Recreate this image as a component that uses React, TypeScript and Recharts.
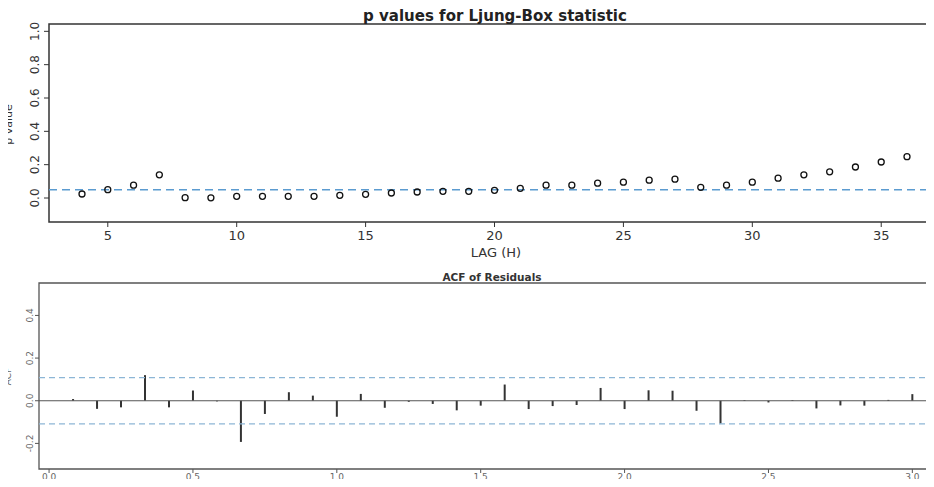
import { ScatterChart, Scatter, ComposedChart, Bar, XAxis, YAxis, ReferenceLine, ReferenceArea } from "recharts";

const lagH = [4, 5, 6, 7, 8, 9, 10, 11, 12, 13, 14, 15, 16, 17, 18, 19, 20, 21, 22, 23, 24, 25, 26, 27, 28, 29, 30, 31, 32, 33, 34, 35, 36];
const pValues = [
  0.024, 0.05, 0.077, 0.139, 0.002, 0.001, 0.01, 0.01, 0.01, 0.01, 0.016, 0.022, 0.03, 0.036, 0.04, 0.04, 0.046,
  0.058, 0.077, 0.077, 0.089, 0.095, 0.107, 0.113, 0.064, 0.077, 0.095, 0.119, 0.139, 0.157, 0.186, 0.216, 0.248,
];
const pTicksX = [5, 10, 15, 20, 25, 30, 35];
const pTicksY = [0, 0.2, 0.4, 0.6, 0.8, 1.0];

const acfLagMonths = [1, 2, 3, 4, 5, 6, 7, 8, 9, 10, 11, 12, 13, 14, 15, 16, 17, 18, 19, 20, 21, 22, 23, 24, 25, 26, 27, 28, 29, 30, 31, 32, 33, 34, 35, 36];
const acfValues = [
  0.008, -0.038, -0.031, 0.12, -0.031, 0.048, -0.003, -0.193, -0.062, 0.04, 0.024, -0.075, 0.032, -0.033, -0.005,
  -0.015, -0.045, -0.023, 0.076, -0.039, -0.025, -0.02, 0.06, -0.039, 0.049, 0.047, -0.047, -0.107, 0.003, -0.008,
  0.003, -0.036, -0.022, -0.023, 0.004, 0.031,
];
const acfTicksX = [0, 0.5, 1, 1.5, 2, 2.5, 3];
const acfTicksY = [-0.2, 0, 0.2, 0.4];
const acfBound = 0.108;

const pData = lagH.map((lag, i) => ({ lag, p: pValues[i] }));
const acfData = acfLagMonths.map((m, i) => ({ lag: m / 12, acf: acfValues[i] }));

const FONT = "'DejaVu Sans', 'Liberation Sans', Arial, sans-serif";

const RotTick = ({ y, payload, x0, size, color }: any) => (
  <text transform={`translate(${x0},${y}) rotate(-90)`} textAnchor="middle" dy="0.35em" fontSize={size} fill={color} fontFamily={FONT}>
    {payload.value.toFixed(1)}
  </text>
);

const OpenDot = ({ cx, cy }: any) => <circle cx={cx} cy={cy} r={3} fill="none" stroke="#111" strokeWidth={1.3} />;

const abs = (left: number, top: number, extra: any = {}) => ({
  position: "absolute" as const,
  left,
  top,
  fontFamily: FONT,
  lineHeight: 1,
  whiteSpace: "nowrap" as const,
  ...extra,
});

export default function App() {
  return (
    <div style={{ position: "relative", width: 934, height: 487, margin: -8, overflow: "hidden", background: "#fff" }}>
      <div style={abs(0, 0)}>
        <ScatterChart width={960} height={250} margin={{ top: 24, right: 20, bottom: 0, left: 0 }}>
          <XAxis
            type="number"
            dataKey="lag"
            domain={[2.72, 37.28]}
            ticks={pTicksX}
            allowDataOverflow
            height={28}
            axisLine={false}
            tickSize={5}
            tickMargin={4}
            tickLine={{ stroke: "#333" }}
            tick={{ fontSize: 13, fill: "#333", fontFamily: FONT }}
          />
          <YAxis
            type="number"
            dataKey="p"
            domain={[-0.144, 1.044]}
            ticks={pTicksY}
            allowDataOverflow
            width={49}
            axisLine={false}
            tickSize={5}
            tickLine={{ stroke: "#333" }}
            tick={<RotTick x0={35} size={12} color="#333" />}
          />
          <ReferenceArea x1={2.72} x2={37.28} y1={-0.144} y2={1.044} fill="none" stroke="#333" strokeWidth={1.5} />
          <ReferenceLine y={0.05} stroke="#5b9bd0" strokeWidth={1.5} strokeDasharray="8 5" />
          <Scatter data={pData} shape={<OpenDot />} isAnimationActive={false} />
        </ScatterChart>
      </div>
      <div style={abs(0, 9, { width: 990, textAlign: "center", fontWeight: "bold", fontSize: 15, color: "#222" })}>
        p values for Ljung-Box statistic
      </div>
      <div style={abs(0, 246, { width: 992, textAlign: "center", fontSize: 13, color: "#333" })}>LAG (H)</div>
      <div style={abs(-8, 125, { width: 60, textAlign: "center", fontSize: 11, color: "#333", transform: "translate(-14px,-6px) rotate(-90deg)" })}>
        p value
      </div>

      <div style={abs(0, 240)}>
        <ComposedChart data={acfData} width={966} height={260} margin={{ top: 43, right: 20, bottom: 0, left: 0 }}>
          <XAxis
            type="number"
            dataKey="lag"
            domain={[-0.035, 3.117]}
            ticks={acfTicksX}
            allowDataOverflow
            height={31}
            axisLine={false}
            tickSize={4}
            tickMargin={1}
            tickLine={{ stroke: "#555" }}
            tick={{ fontSize: 9, fill: "#666", fontFamily: FONT }}
            tickFormatter={(v: number) => v.toFixed(1)}
          />
          <YAxis
            type="number"
            domain={[-0.32, 0.552]}
            ticks={acfTicksY}
            allowDataOverflow
            width={39}
            axisLine={false}
            tickSize={4}
            tickLine={{ stroke: "#555" }}
            tick={<RotTick x0={30} size={9} color="#666" />}
          />
          <ReferenceArea x1={-0.035} x2={3.117} y1={-0.32} y2={0.552} fill="none" stroke="#555" strokeWidth={1.3} />
          <ReferenceLine y={acfBound} stroke="#8db6d6" strokeWidth={1.3} strokeDasharray="6 4" />
          <ReferenceLine y={-acfBound} stroke="#8db6d6" strokeWidth={1.3} strokeDasharray="6 4" />
          <ReferenceLine y={0} stroke="#555" strokeWidth={1.2} />
          <Bar dataKey="acf" barSize={2} fill="#333" isAnimationActive={false} />
        </ComposedChart>
      </div>
      <div style={abs(0, 272, { width: 984, textAlign: "center", fontWeight: "bold", fontSize: 10.5, color: "#333" })}>ACF of Residuals</div>
      <div style={abs(0, 479.5, { width: 984, textAlign: "center", fontSize: 7.5, color: "#666" })}>LAG</div>
      <div style={abs(-8, 376, { width: 40, textAlign: "center", fontSize: 9, color: "#666", transform: "translate(-4px,-4px) rotate(-90deg)" })}>
        ACF
      </div>
    </div>
  );
}
